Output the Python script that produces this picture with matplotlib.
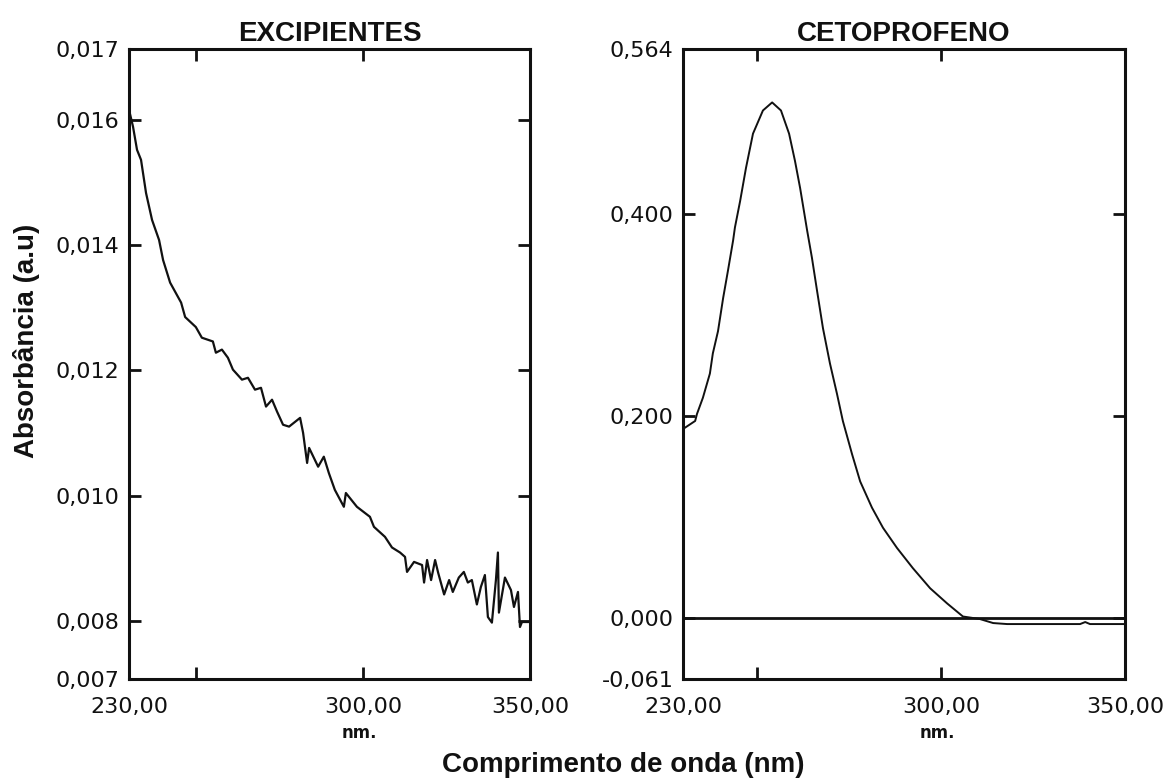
import matplotlib
matplotlib.use("Agg")
import matplotlib.pyplot as plt
from matplotlib.ticker import FixedLocator, FixedFormatter

# comprimento de onda (nm) e absorbância
exc_nm = [230.0, 231.2, 232.4, 233.6, 235.1, 236.9, 239.0, 240.2, 242.3, 245.6,
          246.8, 250.0, 251.8, 255.1, 256.0, 257.8, 259.6, 261.1, 263.8, 265.6,
          267.7, 269.5, 271.0, 272.8, 274.3, 276.1, 277.9, 281.2, 282.1, 283.3,
          283.9, 286.6, 288.3, 289.8, 291.6, 294.3, 294.9, 298.2, 302.1, 303.3,
          306.6, 308.7, 311.1, 312.6, 313.2, 315.3, 317.7, 318.3, 319.2, 320.4,
          321.6, 322.5, 324.3, 325.8, 326.9, 328.7, 330.2, 331.4, 332.6, 334.1,
          335.3, 336.5, 337.4, 338.6, 339.8, 340.4, 340.7, 342.5, 344.3, 345.2,
          346.4, 347.0, 347.6, 349.7, 350.0]
exc_abs = [0.01616, 0.01589, 0.01552, 0.01536, 0.01483, 0.01440, 0.01408, 0.01376, 0.01340, 0.01308,
           0.01285, 0.01269, 0.01252, 0.01246, 0.01228, 0.01233, 0.01220, 0.01201, 0.01185, 0.01188,
           0.01169, 0.01172, 0.01142, 0.01153, 0.01134, 0.01113, 0.01110, 0.01124, 0.01100, 0.01052,
           0.01076, 0.01046, 0.01062, 0.01036, 0.01009, 0.00982, 0.01004, 0.00982, 0.00966, 0.00950,
           0.00934, 0.00917, 0.00909, 0.00902, 0.00878, 0.00894, 0.00889, 0.00861, 0.00897, 0.00865,
           0.00897, 0.00877, 0.00842, 0.00865, 0.00846, 0.00869, 0.00878, 0.00861, 0.00865, 0.00826,
           0.00854, 0.00873, 0.00806, 0.00797, 0.00865, 0.00909, 0.00813, 0.00869, 0.00849, 0.00822,
           0.00846, 0.00790, 0.00798, 0.00798, 0.00798]

ceto_nm = [230.0, 233.3, 233.8, 235.4, 237.3, 238.1, 239.5, 240.9, 242.2, 243.6,
           244.1, 245.5, 247.1, 249.0, 251.7, 254.2, 256.6, 258.8, 260.4, 261.8,
           263.7, 265.0, 266.4, 268.0, 269.9, 271.8, 273.4, 275.9, 278.1, 281.3,
           284.3, 288.1, 292.4, 297.1, 301.7, 306.0, 310.6, 314.2, 318.0, 337.8,
           339.2, 340.5, 350.0]
ceto_abs = [0.187, 0.195, 0.202, 0.218, 0.242, 0.262, 0.284, 0.317, 0.344, 0.374,
            0.387, 0.413, 0.446, 0.480, 0.503, 0.511, 0.503, 0.480, 0.453, 0.426,
            0.384, 0.357, 0.324, 0.287, 0.252, 0.222, 0.195, 0.162, 0.135, 0.109,
            0.089, 0.069, 0.049, 0.029, 0.014, 0.001, -0.0015, -0.0055, -0.0065, -0.0065,
            -0.0045, -0.0065, -0.0065]

x_ticks = [230, 250, 300, 350]
x_labels = ["230,00", "", "300,00", "350,00"]

exc_lim = (0.00707, 0.01713)
exc_ticks = [exc_lim[0], 0.008, 0.010, 0.012, 0.014, 0.016, exc_lim[1]]
exc_labels = ["0,007", "0,008", "0,010", "0,012", "0,014", "0,016", "0,017"]

ceto_lim = (-0.061, 0.564)
ceto_ticks = [ceto_lim[0], 0.0, 0.2, 0.4, ceto_lim[1]]
ceto_labels = ["-0,061", "0,000", "0,200", "0,400", "0,564"]

ink = "#111111"
fig = plt.figure(figsize=(11.63, 7.8), dpi=100)
ax1 = fig.add_axes([129 / 1163, 101 / 780, 401 / 1163, 630 / 780])
ax2 = fig.add_axes([683 / 1163, 101 / 780, 442 / 1163, 630 / 780])

for ax, nm, ab, lim, yt, yl, title, lw in [
        (ax1, exc_nm, exc_abs, exc_lim, exc_ticks, exc_labels, "EXCIPIENTES", 1.6),
        (ax2, ceto_nm, ceto_abs, ceto_lim, ceto_ticks, ceto_labels, "CETOPROFENO", 1.4)]:
    ax.plot(nm, ab, color=ink, lw=lw)
    ax.set_xlim(230, 350)
    ax.set_ylim(*lim)
    ax.xaxis.set_major_locator(FixedLocator(x_ticks))
    ax.xaxis.set_major_formatter(FixedFormatter(x_labels))
    ax.yaxis.set_major_locator(FixedLocator(yt))
    ax.yaxis.set_major_formatter(FixedFormatter(yl))
    ax.tick_params(direction="in", length=8.5, width=2, color=ink,
                   top=True, right=True, labelsize=16, labelcolor=ink)
    ax.tick_params(axis="x", pad=13)
    ax.tick_params(axis="y", pad=7)
    for s in ax.spines.values():
        s.set_linewidth(2.2)
        s.set_color(ink)
    ax.set_title(title, fontsize=20, fontweight="bold", family="Liberation Sans",
                 color=ink, pad=6)
    ax.text(0.575, -0.085, "nm.", transform=ax.transAxes, ha="center", va="center",
            fontsize=12, fontweight="bold", color=ink)

ax2.axhline(0, color=ink, lw=2)

fig.text(27 / 1163, 1 - 341 / 780, "Absorbância (a.u)", rotation=90, ha="center", va="center",
         fontsize=20, fontweight="bold", family="Liberation Sans", color=ink)
fig.text(623 / 1163, 1 - 765 / 780, "Comprimento de onda (nm)", ha="center", va="center",
         fontsize=20, fontweight="bold", family="Liberation Sans", color=ink)

fig.savefig("out.png", dpi=100)
